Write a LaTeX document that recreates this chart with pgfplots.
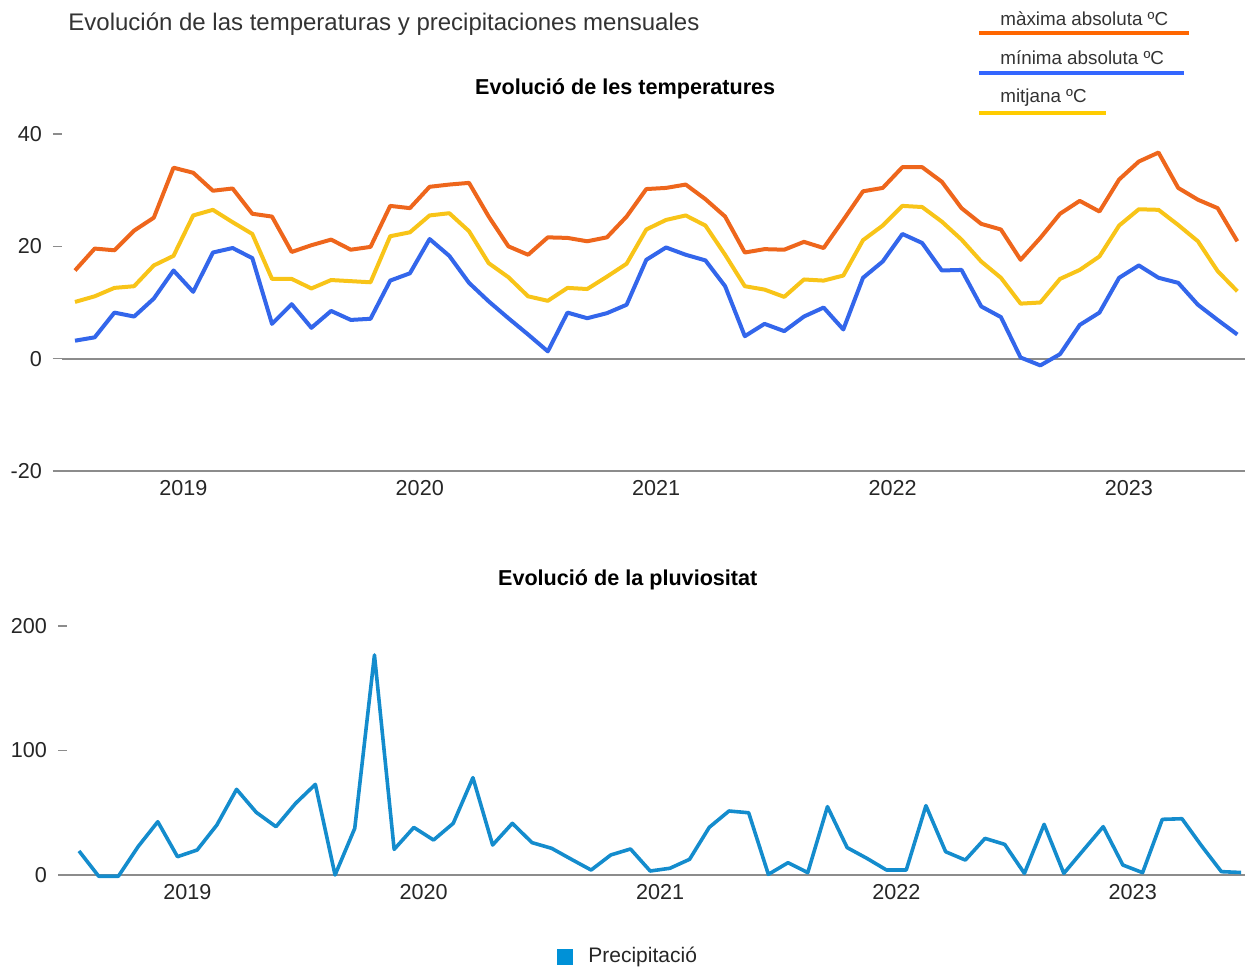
\documentclass[border=0pt]{standalone}
\usepackage{fontspec}
\setmainfont{Liberation Sans}
\usepackage{pgfplots}
\pgfplotsset{compat=1.18}
\usepackage{pgfplotstable}

\definecolor{cmax}{RGB}{238,102,28}
\definecolor{cmin}{RGB}{51,102,235}
\definecolor{cmean}{RGB}{248,196,24}
\definecolor{lmax}{RGB}{255,102,0}
\definecolor{lmin}{RGB}{51,102,255}
\definecolor{lmean}{RGB}{255,204,0}
\definecolor{cprec}{RGB}{20,140,205}
\definecolor{lprec}{RGB}{0,145,215}
\definecolor{txt}{RGB}{51,51,51}
\definecolor{axisgray}{RGB}{140,140,140}

\pgfplotstableread{
k max mean min prec
0 15.7 10.1 3.2 19.3
1 19.6 11.1 3.8 -1
2 19.3 12.6 8.2 -1
3 22.8 12.9 7.5 22.8
4 25.1 16.6 10.7 42.8
5 34.0 18.3 15.7 14.7
6 33.1 25.5 11.9 20.1
7 29.9 26.5 18.9 40.2
8 30.3 24.3 19.7 68.8
9 25.8 22.2 17.9 50.3
10 25.3 14.2 6.2 38.8
11 19.0 14.2 9.7 57.6
12 20.2 12.5 5.5 72.8
13 21.2 14.0 8.5 0
14 19.4 13.8 6.9 37.5
15 19.9 13.6 7.1 176.7
16 27.2 21.8 13.9 20.6
17 26.8 22.5 15.2 38.2
18 30.6 25.5 21.3 28.1
19 31.0 25.9 18.3 41.5
20 31.3 22.7 13.5 78.2
21 25.3 17.0 10.2 24.1
22 20.0 14.5 7.2 41.5
23 18.5 11.1 4.3 26.0
24 21.6 10.3 1.3 21.4
25 21.5 12.6 8.2 12.6
26 20.9 12.4 7.2 4.0
27 21.6 14.6 8.1 16.1
28 25.3 16.9 9.6 20.9
29 30.2 23.0 17.6 3.2
30 30.4 24.7 19.8 5.4
31 31.0 25.5 18.5 12.6
32 28.4 23.7 17.5 38.3
33 25.3 18.5 12.9 51.4
34 18.9 12.9 4.0 50.0
35 19.5 12.3 6.2 0.5
36 19.4 11.0 4.9 9.9
37 20.8 14.1 7.5 1.9
38 19.7 13.9 9.1 54.9
39 24.7 14.8 5.2 22.0
40 29.8 21.1 14.4 13.4
41 30.4 23.7 17.3 4.0
42 34.1 27.2 22.2 4.0
43 34.1 27.0 20.6 55.7
44 31.5 24.4 15.7 18.7
45 26.8 21.2 15.8 12.0
46 24.0 17.3 9.3 29.4
47 23.0 14.4 7.4 24.6
48 17.6 9.8 0.2 1.3
49 21.5 10.0 -1.2 40.7
50 25.8 14.2 0.8 1.3
51 28.1 15.8 6.0 20.1
52 26.2 18.2 8.2 38.8
53 31.9 23.7 14.4 8.0
54 35.1 26.6 16.6 1.9
55 36.7 26.5 14.4 44.7
56 30.4 23.8 13.5 45.2
57 28.3 20.9 9.6 23.3
58 26.8 15.6 6.9 2.7
59 20.9 12.0 4.3 2.0
}\data

\pgfplotsset{
  mystyle/.style={
    scale only axis, anchor=south west, clip=false,
    axis line style={draw=none},
    tick align=outside, major tick length=4.5pt,
    ytick pos=left, xtick pos=bottom,
    ytick style={axisgray, line width=0.8pt},
    xtick style={draw=none},
    tick label style={font=\fontsize{10.8}{13}\selectfont, color=black!85},
    yticklabel style={xshift=-2pt},
    xticklabel style={yshift=3.2pt},
    xtick={5.5,17.5,29.5,41.5,53.5},
    xticklabels={2019,2020,2021,2022,2023},
    every axis plot/.append style={line join=round},
  }
}

\begin{document}
\begin{tikzpicture}
\useasboundingbox (0,0) rectangle (624pt,-483.5pt);

% main title
\node[anchor=west, text=txt, font=\fontsize{12}{14}\selectfont, inner sep=0pt] at (34pt,-12pt) {Evolución de las temperaturas y precipitaciones mensuales};

% custom legend (top right)
\node[anchor=west, text=txt, font=\fontsize{9.4}{11}\selectfont, inner sep=0pt] at (500pt,-9.5pt) {màxima absoluta ºC};
\fill[lmax] (489.5pt,-15.5pt) rectangle (594.5pt,-17.5pt);
\node[anchor=west, text=txt, font=\fontsize{9.4}{11}\selectfont, inner sep=0pt] at (500pt,-29pt) {mínima absoluta ºC};
\fill[lmin] (489.5pt,-35.5pt) rectangle (592pt,-37.5pt);
\node[anchor=west, text=txt, font=\fontsize{9.4}{11}\selectfont, inner sep=0pt] at (500pt,-49pt) {mitjana ºC};
\fill[lmean] (489.5pt,-55.5pt) rectangle (553pt,-57.5pt);

% temperature axis
\begin{axis}[mystyle,
  at={(31pt,-235.5pt)}, width=591.6pt, height=168.5pt,
  xmin=-0.66, xmax=59.4, ymin=-20, ymax=40,
  ytick={-20,0,20,40}, yticklabels={-20,0,20,40},
  extra y ticks={-20,0}, extra y tick labels={},
  extra y tick style={grid=major, major grid style={axisgray, line width=1pt}},
  title={\textbf{Evolució de les temperatures}},
  title style={font=\fontsize{10.8}{13}\selectfont, at={(0.476,1)}, anchor=center, yshift=16.5pt},
]
\addplot[cmax, line width=2pt] table[x=k, y=max] {\data};
\addplot[cmean, line width=2pt] table[x=k, y=mean] {\data};
\addplot[cmin, line width=2pt] table[x=k, y=min] {\data};
\end{axis}

% precipitation axis
\begin{axis}[mystyle,
  at={(33.5pt,-437.5pt)}, width=589pt, height=124.5pt,
  xmin=-0.61, xmax=59.2, ymin=0, ymax=200,
  ytick={0,100,200}, yticklabels={0,100,200},
  extra y ticks={0}, extra y tick labels={},
  extra y tick style={grid=major, major grid style={axisgray, line width=1pt}},
  title={\textbf{Evolució de la pluviositat}},
  title style={font=\fontsize{10.8}{13}\selectfont, at={(0.476,1)}, anchor=center, yshift=17pt},
]
\addplot[cprec, line width=1.8pt] table[x=k, y=prec] {\data};
\end{axis}

% precipitation legend
\fill[lprec] (278.5pt,-474.5pt) rectangle (286.5pt,-482.5pt);
\node[anchor=west, text=black!85, font=\fontsize{10.5}{12}\selectfont, inner sep=0pt] at (294pt,-478.5pt) {Precipitació};
\end{tikzpicture}
\end{document}
